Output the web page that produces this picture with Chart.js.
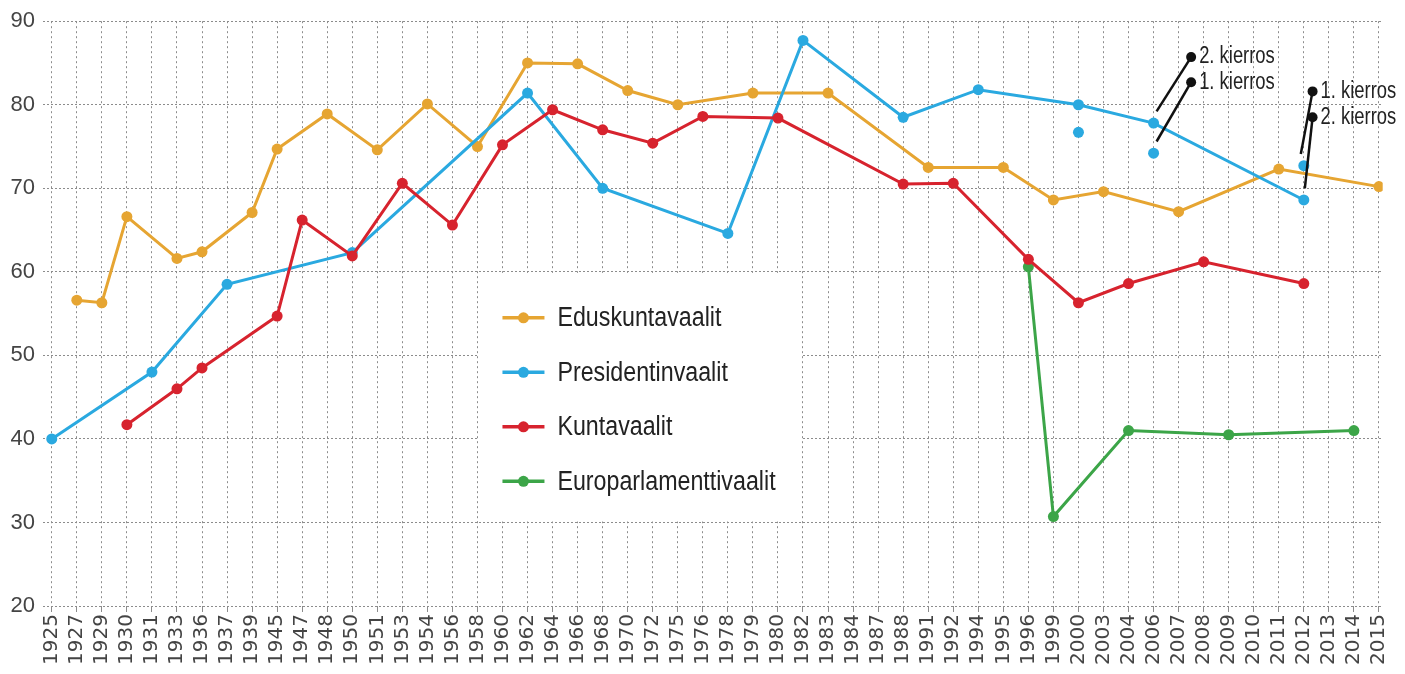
<!DOCTYPE html>
<html>
<head>
<meta charset="utf-8">
<script src="https://cdn.jsdelivr.net/npm/chart.js@4.4.1/dist/chart.umd.min.js"></script>
<style>
  html, body { margin: 0; padding: 0; background: #fff; }
  #wrap { width: 1405px; height: 674px; }
</style>
</head>
<body>
<div id="wrap"><canvas id="turnout"></canvas></div>
<script>
// Category labels on the x axis (election years, not evenly spaced)
const years = [1925, 1927, 1929, 1930, 1931, 1933, 1936, 1937, 1939, 1945, 1947, 1948, 1950, 1951,
  1953, 1954, 1956, 1958, 1960, 1962, 1964, 1966, 1968, 1970, 1972, 1975, 1976, 1978, 1979, 1980,
  1982, 1983, 1984, 1987, 1988, 1991, 1992, 1994, 1995, 1996, 1999, 2000, 2003, 2004, 2006, 2007,
  2008, 2009, 2010, 2011, 2012, 2013, 2014, 2015];

const yTicks = [20, 30, 40, 50, 60, 70, 80, 90];

// Eduskuntavaalit
const eduskuntaYears = [1927, 1929, 1930, 1933, 1936, 1939, 1945, 1948, 1951, 1954, 1958, 1962,
  1966, 1970, 1975, 1979, 1983, 1991, 1995, 1999, 2003, 2007, 2011, 2015];
const eduskuntaValues = [56.6, 56.3, 66.6, 61.6, 62.4, 67.1, 74.7, 78.9, 74.6, 80.1, 75.0, 85.0,
  84.9, 81.7, 80.0, 81.4, 81.4, 72.5, 72.5, 68.6, 69.6, 67.2, 72.3, 70.2];

// Presidentinvaalit (line = 2nd round where there was one)
const presidentYears = [1925, 1931, 1937, 1950, 1962, 1968, 1978, 1982, 1988, 1994, 2000, 2006, 2012];
const presidentValues = [40.0, 48.0, 58.5, 62.3, 81.4, 70.0, 64.6, 87.7, 78.5, 81.8, 80.0, 77.8, 68.6];

// Presidentinvaalit, 1st round (loose dots)
const firstRoundYears = [2000, 2006, 2012];
const firstRoundValues = [76.7, 74.2, 72.7];

// Kuntavaalit
const kuntaYears = [1930, 1933, 1936, 1945, 1947, 1950, 1953, 1956, 1960, 1964, 1968, 1972, 1976,
  1980, 1988, 1992, 1996, 2000, 2004, 2008, 2012];
const kuntaValues = [41.7, 46.0, 48.5, 54.7, 66.2, 61.9, 70.6, 65.6, 75.2, 79.4, 77.0, 75.4, 78.6,
  78.4, 70.5, 70.6, 61.5, 56.3, 58.6, 61.2, 58.6];

// Europarlamenttivaalit
const euroYears = [1996, 1999, 2004, 2009, 2014];
const euroValues = [60.6, 30.7, 41.0, 40.5, 41.0];

const COLORS = {
  eduskunta: '#e6a532',
  president: '#2aa9e0',
  kunta: '#d7232e',
  euro: '#3ca548'
};

const FONT = '"Liberation Sans", Arial, sans-serif';

const toPoints = (yrs, vals) => yrs.map((yr, k) => ({ x: years.indexOf(yr), y: vals[k] }));

const lineSet = (label, yrs, vals, color, order) => ({
  label: label,
  data: toPoints(yrs, vals),
  borderColor: color,
  backgroundColor: color,
  pointBackgroundColor: color,
  pointBorderColor: color,
  borderWidth: 3,
  pointRadius: 5.5,
  pointBorderWidth: 0,
  tension: 0,
  order: order,
  inLegend: true
});

// labels for the two rounds: which point the leader starts from, and where the label sits
const roundNotes = [
  { text: '2. kierros', year: 2006, value: presidentValues[presidentYears.indexOf(2006)], dx: 0.12, toX: 45.5, toY: 85.7 },
  { text: '1. kierros', year: 2006, value: firstRoundValues[firstRoundYears.indexOf(2006)], dx: 0.12, toX: 45.5, toY: 82.7 },
  { text: '1. kierros', year: 2012, value: firstRoundValues[firstRoundYears.indexOf(2012)], dx: -0.12, toX: 50.35, toY: 81.6 },
  { text: '2. kierros', year: 2012, value: presidentValues[presidentYears.indexOf(2012)], dx: 0.04, toX: 50.35, toY: 78.5 }
];

// narrow text: the original uses a condensed face
function narrowText(ctx, text, x, y, size, squeeze) {
  ctx.save();
  ctx.font = size + 'px ' + FONT;
  ctx.textBaseline = 'middle';
  ctx.textAlign = 'left';
  ctx.translate(x, y);
  ctx.scale(squeeze, 1);
  ctx.fillText(text, 0, 0);
  ctx.restore();
}

const legendBox = {
  id: 'legendBox',
  beforeDatasetsDraw(chart) {
    const { ctx, scales: { x, y } } = chart;
    const left = x.getPixelForValue(17) + 1;
    const right = x.getPixelForValue(30) - 1;
    const top = y.getPixelForValue(60) + 1;
    const bottom = y.getPixelForValue(30) - 1;
    ctx.save();
    ctx.fillStyle = '#fff';
    ctx.fillRect(left, top, right - left, bottom - top);

    const items = chart.data.datasets.filter(d => d.inLegend)
      .sort((a, b) => a.legendPos - b.legendPos);
    items.forEach((d, k) => {
      const rowY = top + 45 + k * 54.5;
      const x0 = left + 24;
      ctx.strokeStyle = d.borderColor;
      ctx.lineWidth = 3.5;
      ctx.beginPath();
      ctx.moveTo(x0, rowY);
      ctx.lineTo(x0 + 42, rowY);
      ctx.stroke();
      ctx.fillStyle = d.borderColor;
      ctx.beginPath();
      ctx.arc(x0 + 21, rowY, 5.5, 0, Math.PI * 2);
      ctx.fill();
      ctx.fillStyle = '#222';
      narrowText(ctx, d.label, x0 + 55, rowY + 1, 27, 0.86);
    });
    ctx.restore();
  }
};

const roundLabels = {
  id: 'roundLabels',
  afterDatasetsDraw(chart) {
    const { ctx, scales: { x, y } } = chart;
    ctx.save();
    roundNotes.forEach(n => {
      const x1 = x.getPixelForValue(years.indexOf(n.year) + n.dx);
      const y1 = y.getPixelForValue(n.value + 1.4);
      const x2 = x.getPixelForValue(n.toX);
      const y2 = y.getPixelForValue(n.toY);
      ctx.strokeStyle = '#111';
      ctx.lineWidth = 2.5;
      ctx.beginPath();
      ctx.moveTo(x1, y1);
      ctx.lineTo(x2, y2);
      ctx.stroke();
      ctx.fillStyle = '#111';
      ctx.beginPath();
      ctx.arc(x2, y2, 5, 0, Math.PI * 2);
      ctx.fill();
      ctx.fillStyle = '#222';
      narrowText(ctx, n.text, x2 + 8, y2, 23, 0.8);
    });
    ctx.restore();
  }
};

const datasets = [
  Object.assign(lineSet('Eduskuntavaalit', eduskuntaYears, eduskuntaValues, COLORS.eduskunta, 4), { legendPos: 0 }),
  Object.assign(lineSet('Presidentinvaalit', presidentYears, presidentValues, COLORS.president, 2), { legendPos: 1 }),
  {
    label: 'Presidentinvaalit 1. kierros',
    data: toPoints(firstRoundYears, firstRoundValues),
    showLine: false,
    pointRadius: 5.5,
    pointBorderWidth: 0,
    pointBackgroundColor: COLORS.president,
    borderColor: COLORS.president,
    order: 2
  },
  Object.assign(lineSet('Kuntavaalit', kuntaYears, kuntaValues, COLORS.kunta, 1), { legendPos: 2 }),
  Object.assign(lineSet('Europarlamenttivaalit', euroYears, euroValues, COLORS.euro, 3), { legendPos: 3 })
];

const gridColor = '#8c8c8c';

new Chart(document.getElementById('turnout'), {
  type: 'line',
  data: { datasets: datasets },
  options: {
    responsive: true,
    maintainAspectRatio: false,
    animation: false,
    layout: { padding: { top: 21, right: 21, left: 0, bottom: 0 } },
    plugins: {
      legend: { display: false },
      tooltip: { enabled: false }
    },
    scales: {
      x: {
        type: 'linear',
        min: -0.35,
        max: years.length - 1 + 0.15,
        afterBuildTicks: s => { s.ticks = years.map((_, i) => ({ value: i })); },
        afterFit: s => { s.height = 68; },
        grid: { color: gridColor, lineWidth: 1, tickLength: 6, tickColor: gridColor },
        border: { display: false, dash: [2, 3] },
        ticks: {
          autoSkip: false,
          maxRotation: 90,
          minRotation: 90,
          padding: 2,
          color: '#444',
          font: { family: '"DejaVu Sans", sans-serif', size: 20 },
          callback: v => years[v]
        }
      },
      y: {
        min: 20,
        max: 90,
        afterBuildTicks: s => { s.ticks = yTicks.map(v => ({ value: v })); },
        afterFit: s => { s.width = 43; },
        grid: { color: gridColor, lineWidth: 1, drawTicks: false },
        border: { display: false, dash: [2, 2] },
        ticks: {
          padding: 8,
          color: '#444',
          font: { family: FONT, size: 22 }
        }
      }
    }
  },
  plugins: [legendBox, roundLabels]
});
</script>
</body>
</html>
